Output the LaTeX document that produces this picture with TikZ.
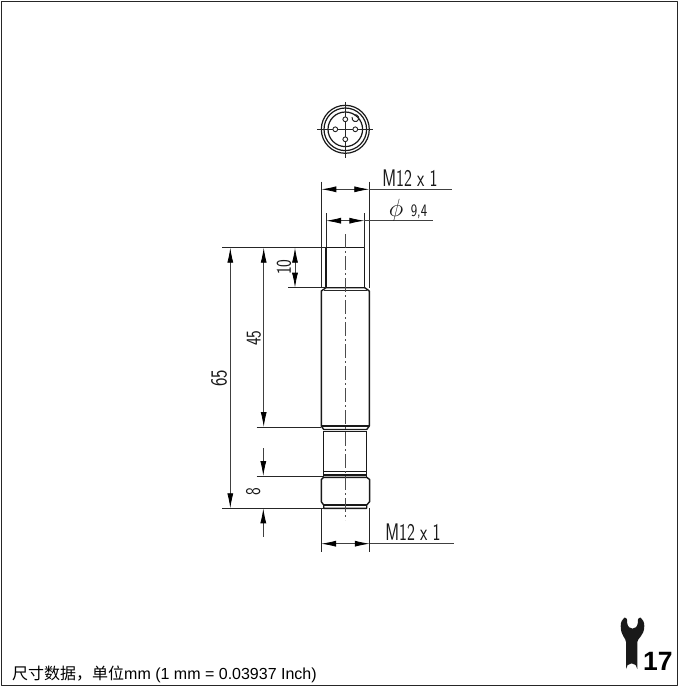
\documentclass[tikz,border=0pt]{standalone}
\usepackage{fontspec}
\usepackage{graphicx}
\setmainfont{Liberation Sans}
\newfontfamily\cjk{Noto Sans CJK SC}
\usetikzlibrary{arrows.meta}
\tikzset{
  outline/.style={line width=1.4pt,black!90,line join=round},
  thinline/.style={line width=.8pt,black!85},
  dimline/.style={line width=.8pt,black!75},
  dimarrows/.style={dimline,{Latex[length=15pt,width=6pt,black]}-{Latex[length=15pt,width=6pt,black]}},
  onearrow/.style={dimline,-{Latex[length=15pt,width=6pt,black]}},
  axisline/.style={line width=.6pt,black!70,dash pattern=on 14pt off 3pt on 2pt off 3pt},
  dimtext/.style={inner sep=0pt,outer sep=0pt,text=black!90,font=\sffamily}
}
\newcommand{\dimlabel}[3][.78]{\scalebox{#1}[1]{\fontsize{#2}{#2}\selectfont #3}}
\begin{document}
\begin{tikzpicture}[x=1pt,y=-1pt,line join=round]
  \useasboundingbox (0,0) rectangle (678,686);
  \draw[line width=1pt,black!85] (1,1) rectangle (677,685);
  % pin view
  \coordinate (pv) at (345.3,129.3);
  \draw[outline,line width=1.2pt] (pv) circle (24) (pv) circle (21.3) (pv) circle (17.3);
  \draw[thinline] (317,129.3) -- (373,129.3) (345.3,102) -- (345.3,158);
  \foreach \name/\dx/\dy in {pintop/0/-10,pinleft/-10/0,pinright/10/0,pinbottom/0/10}
    \node[circle,draw=black!85,fill=white,line width=.9pt,inner sep=0pt,minimum size=4.8pt]
      (\name) at ([shift={(\dx,\dy)}]pv) {};
  \draw[line width=1pt,black!85] (352.2,117) arc (200:-110:3.4);
  % thread and body
  \draw[outline] (323.7,508.3) -- (323.7,505) -- (321.3,501.7) -- (321.3,479.5) -- (323.7,477.3)
    -- (366.7,477.3) -- (369.6,479.5) -- (369.6,501.7) -- (366.7,505) -- (366.7,508.3) -- cycle;
  \draw[outline] (323.7,505) -- (366.7,505);
  \draw[outline] (323.7,477.3) -- (323.7,431) (366.7,477.3) -- (366.7,431);
  \draw[outline] (323.7,475) -- (366.7,475) (323.7,471.7) -- (366.7,471.7);
  \draw[outline] (323.7,431.7) -- (366.7,431.7);
  \draw[outline] (323.7,429.5) -- (321.3,426) -- (321.3,291) -- (326,287.7)
    -- (364.7,287.7) -- (369.3,291) -- (369.3,426) -- (366.7,429.5) -- cycle;
  \draw[outline] (321.3,426) -- (369.3,426);
  \draw[outline] (326,287.7) -- (326,247.7) -- (364.7,247.7) -- (364.7,287.7);
  \draw[thinline] (323.5,290.5) -- (367,290.5);
  \draw[axisline] (345.5,234) -- (345.5,520);
  % extension lines
  \coordinate (topl) at (326,247.7);
  \coordinate (neckl) at (326,287.7);
  \coordinate (bodyl) at (321.3,427);
  \coordinate (nutl) at (323.7,476);
  \coordinate (endl) at (323.7,508.3);
  \coordinate (d65top) at (230.3,247.7);
  \coordinate (d65bot) at (230.3,508.3);
  \coordinate (d45top) at (263.7,247.7);
  \coordinate (d45bot) at (263.7,427);
  \coordinate (d10top) at (295,247.7);
  \coordinate (d10bot) at (295,287.7);
  \draw[thinline] (222,247.7) -- (topl) (288,287.7) -- (neckl)
    (256.7,427) -- (bodyl) (256.7,476) -- (nutl) (222,508.3) -- (endl);
  \draw[thinline] (321.3,181.7) -- (321.3,288) (369.3,181.7) -- (369.3,288)
    (326,213) -- (326,247) (364.4,213) -- (364.4,247)
    (321,508) -- (321,552) (369.8,508) -- (369.8,552);
  % dimensions
  \draw[dimarrows] (d65top) -- (d65bot);
  \draw[dimarrows] (d45top) -- (d45bot);
  \draw[dimarrows] (d10top) -- (d10bot);
  \draw[onearrow] (263.3,448) -- (263.3,476);
  \draw[onearrow] (263.3,536.7) -- (263.3,508.3);
  \draw[dimarrows] (321.3,189.3) -- (369.3,189.3);
  \draw[dimline] (369.3,189.3) -- (451.7,189.3);
  \draw[dimarrows] (326,220.7) -- (364.4,220.7);
  \draw[dimline] (364.4,220.7) -- (433,220.7);
  \draw[dimarrows] (321,543.7) -- (369.8,543.7);
  \draw[dimline] (369.8,543.7) -- (454,543.7);
  % labels
  \node[dimtext,anchor=base] (m12top) at (410,186) {\dimlabel[.7]{24}{M12 x 1}};
  \node[dimtext,anchor=base] (m12bot) at (413,540) {\dimlabel[.7]{24}{M12 x 1}};
  \node[dimtext,anchor=base] (phi) at (396,216.5) {\fontsize{27}{27}\selectfont$\phi$};
  \node[dimtext,anchor=base] (dia) at (419,216.5) {\dimlabel{17.5}{9,4}};
  \node[dimtext,rotate=90] (l65) at (219,378) {\dimlabel{23}{65}};
  \node[dimtext,rotate=90] (l45) at (254,338) {\dimlabel{21}{45}};
  \node[dimtext,rotate=90] (l10) at (284,267) {\dimlabel{21}{10}};
  \node[dimtext,rotate=90] (l8) at (253.3,492) {\dimlabel{21}{8}};
  \node[anchor=base west,inner sep=0pt] (caption) at (12,679.3)
    {\fontsize{16}{16}\selectfont{\cjk 尺寸数据\char"FF0C 单位}mm (1 mm = 0.03937 Inch)};
  % wrench
  \fill[black!90] (626,669) arc (180:360:5.65) -- (637.3,642)
    .. controls (637.5,638) and (644.3,636) .. (644.3,626)
    .. controls (644.3,622) and (643,619.5) .. (640.5,617.5)
    .. controls (639,618) and (638,618.5) .. (637.8,620)
    -- (637.8,623) .. controls (637,630.5) and (628,630.5) .. (627.2,623)
    -- (627.2,620)
    .. controls (627,618.5) and (626,618) .. (624.5,617.5)
    .. controls (622,619.5) and (620.7,622) .. (620.7,626)
    .. controls (620.7,636) and (626,638) .. (626,642) -- cycle;
  \node[anchor=base west,inner sep=0pt,font=\bfseries] (size) at (643,670.7)
    {\fontsize{26.5}{26.5}\selectfont 17};
\end{tikzpicture}
\end{document}
